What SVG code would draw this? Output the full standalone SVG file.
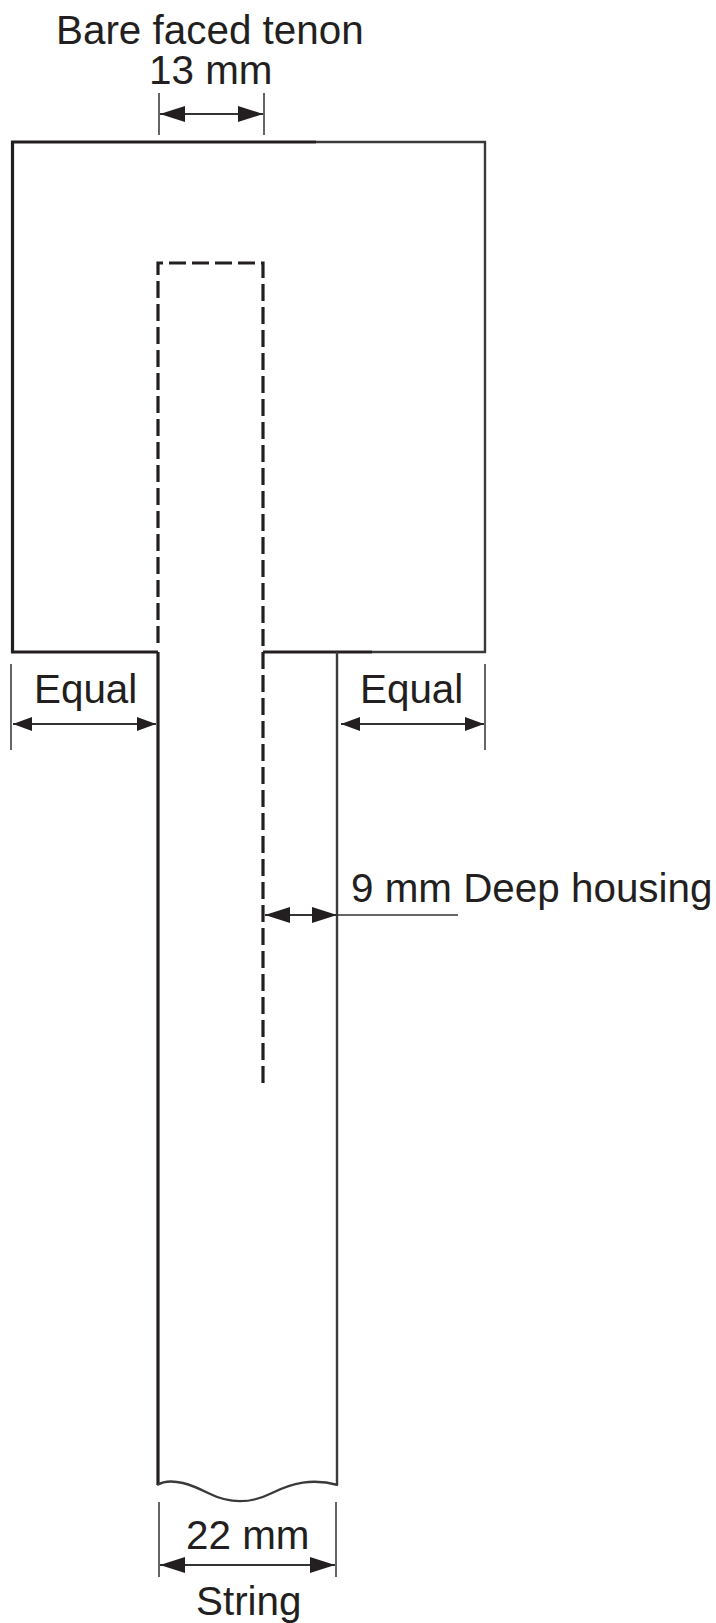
<svg xmlns="http://www.w3.org/2000/svg" width="716" height="1623" viewBox="0 0 716 1623">
<style>
text{font-family:"Liberation Sans",Arial,sans-serif;font-size:40.4px;fill:#231f20}
.o{fill:none;stroke:#231f20;stroke-width:3.2}
.t{fill:none;stroke:#3a3a3a;stroke-width:2.4}
.d{fill:none;stroke:#231f20;stroke-width:3.2;stroke-dasharray:17 6}
.e{fill:none;stroke:#333;stroke-width:1.5}
.a{fill:none;stroke:#333;stroke-width:1.8;marker-start:url(#h);marker-end:url(#h)}
.s{fill:none;stroke:#333;stroke-width:1.8;marker-start:url(#m);marker-end:url(#m)}
</style>
<defs>
<marker id="h" viewBox="0 0 26 16" refX="25" refY="8" markerWidth="26" markerHeight="16" markerUnits="userSpaceOnUse" orient="auto-start-reverse"><path d="M0 0L25 8L0 16Z" fill="#231f20"/></marker>
<marker id="m" viewBox="0 0 20 14" refX="19" refY="7" markerWidth="20" markerHeight="14" markerUnits="userSpaceOnUse" orient="auto-start-reverse"><path d="M0 0L19 7L0 14Z" fill="#231f20"/></marker>
</defs>
<rect width="716" height="1623" fill="#fff"/>
<g id="head">
<path class="o" d="M316 142H12.500V652H158"/>
<path class="t" d="M316 142H485V652H372"/>
<path class="o" d="M372 652H263"/>
</g>
<g id="string">
<path class="o" d="M158 652V1485"/>
<path class="t" d="M337 652V1485"/>
<path class="t" d="M157 1485C172 1476 194 1486 208 1493C230 1504 250 1504 272 1493C292 1483 312 1478 338 1485"/>
</g>
<g id="tenon">
<path class="d" d="M158 643V263H263V1087"/>
</g>
<g id="connectors">
<path class="e" d="M159 93V135M264 93V135M11 664V750M485 664V750M159 1502V1577M336 1502V1577M337 915H458"/>
<path class="a" d="M160 114H263"/>
<path class="s" d="M13 724H156"/>
<path class="s" d="M341 724H484"/>
<path class="a" d="M265 915H337"/>
<path class="a" d="M160 1565H335"/>
</g>
<g id="labels">
<text x="56" y="44">Bare faced tenon</text>
<text x="149" y="84">13 mm</text>
<text x="34" y="703">Equal</text>
<text x="360" y="703">Equal</text>
<text x="351" y="902">9 mm Deep housing</text>
<text x="186" y="1549">22 mm</text>
<text x="196" y="1615">String</text>
</g>
</svg>
